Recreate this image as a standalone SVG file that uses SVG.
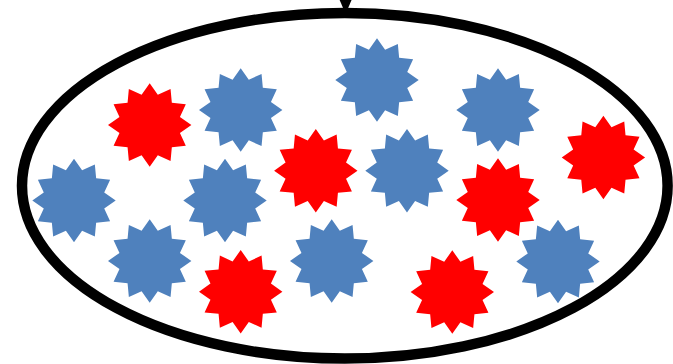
<svg xmlns="http://www.w3.org/2000/svg" xmlns:xlink="http://www.w3.org/1999/xlink" width="673" height="364" viewBox="0 0 673 364">
<style>
.blue{fill:#4F81BD}
.red{fill:#FF0000}
.ring{fill:#FFFFFF;stroke:#000000;stroke-width:10.5}
</style>
<defs>
<path id="star" d="M0,-41.7 L8.1,-30.23 L20.85,-36.11 L22.13,-22.13 L36.11,-20.85 L30.23,-8.1 L41.7,0 L30.23,8.1 L36.11,20.85 L22.13,22.13 L20.85,36.11 L8.1,30.23 L0,41.7 L-8.1,30.23 L-20.85,36.11 L-22.13,22.13 L-36.11,20.85 L-30.23,8.1 L-41.7,0 L-30.23,-8.1 L-36.11,-20.85 L-22.13,-22.13 L-20.85,-36.11 L-8.1,-30.23 Z"/>
</defs>
<rect width="673" height="364" fill="#FFFFFF"/>
<g id="container">
<ellipse class="ring" cx="344.8" cy="185.8" rx="322.8" ry="172.8"/>
</g>
<g id="connectors">
<line x1="345.6" y1="-30" x2="345.6" y2="0" stroke="#000" stroke-width="2"/>
<polygon points="338.8,-2 352.4,-2 345.6,14" fill="#000"/>
</g>
<g id="blue1"><use xlink:href="#star" class="blue" x="377" y="80"/></g>
<g id="blue2"><use xlink:href="#star" class="blue" x="240.7" y="110"/></g>
<g id="blue3"><use xlink:href="#star" class="blue" x="498" y="110"/></g>
<g id="blue4"><use xlink:href="#star" class="blue" x="74" y="200.5"/></g>
<g id="blue5"><use xlink:href="#star" class="blue" x="225" y="200.5"/></g>
<g id="blue6"><use xlink:href="#star" class="blue" x="407" y="170.7"/></g>
<g id="blue7"><use xlink:href="#star" class="blue" x="149.7" y="261"/></g>
<g id="blue8"><use xlink:href="#star" class="blue" x="331.7" y="261"/></g>
<g id="blue9"><use xlink:href="#star" class="blue" x="558" y="261.5"/></g>
<g id="red1"><use xlink:href="#star" class="red" x="149.7" y="125"/></g>
<g id="red2"><use xlink:href="#star" class="red" x="315.8" y="170.7"/></g>
<g id="red3"><use xlink:href="#star" class="red" x="603.4" y="157.5"/></g>
<g id="red4"><use xlink:href="#star" class="red" x="498" y="200"/></g>
<g id="red5"><use xlink:href="#star" class="red" x="240.7" y="291.7"/></g>
<g id="red6"><use xlink:href="#star" class="red" x="452.3" y="292"/></g>
</svg>
